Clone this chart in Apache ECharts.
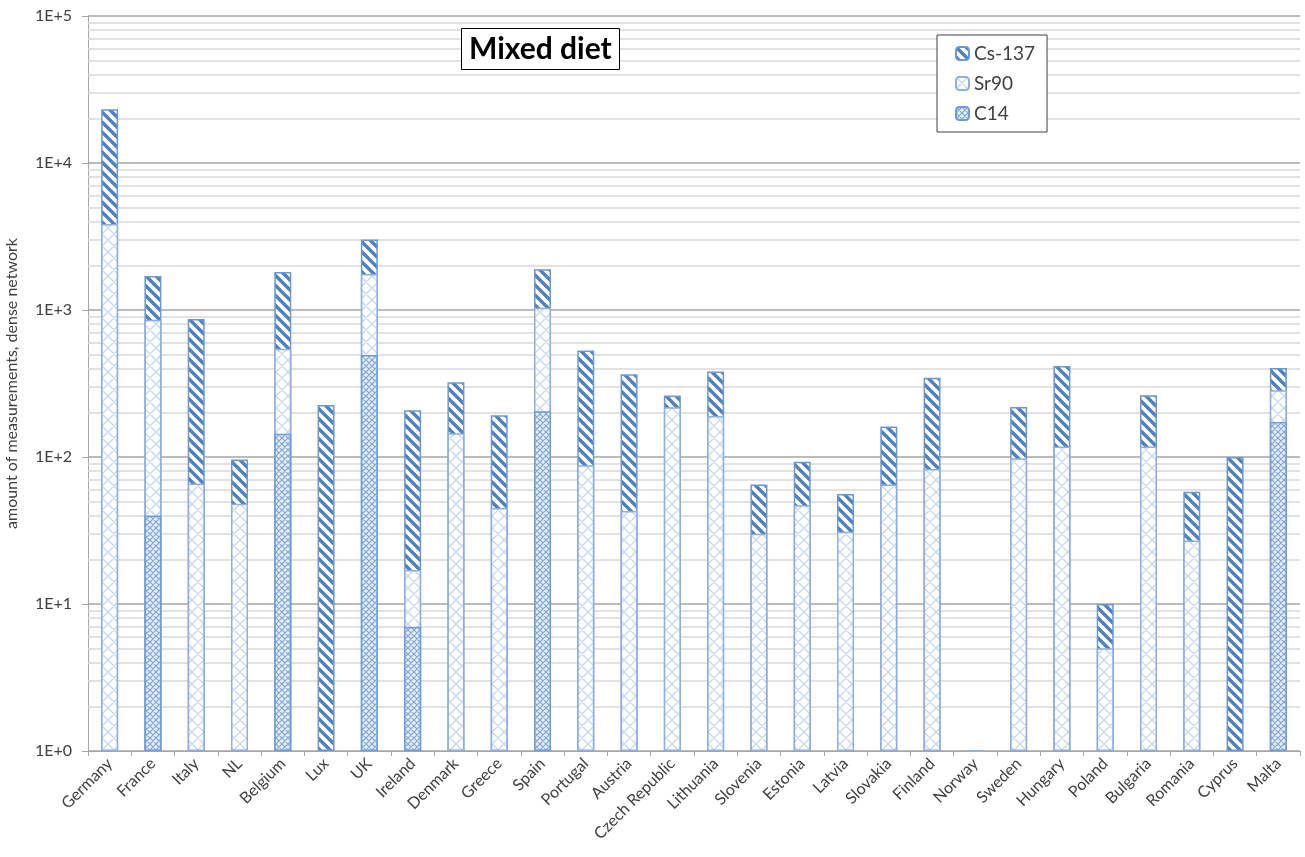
<!DOCTYPE html>
<html>
<head>
<meta charset="utf-8">
<script src="https://cdn.jsdelivr.net/npm/echarts@6/dist/echarts.min.js"></script>
<style>
html,body{margin:0;padding:0;background:#fff;}
#chart{width:1305px;height:857px;}
</style>
</head>
<body>
<div id="chart"></div>
<script>
// ---- data ----
const countries = ['Germany','France','Italy','NL','Belgium','Lux','UK','Ireland','Denmark','Greece','Spain','Portugal','Austria','Czech Republic','Lithuania','Slovenia','Estonia','Latvia','Slovakia','Finland','Norway','Sweden','Hungary','Poland','Bulgaria','Romania','Cyprus','Malta'];
const c14   = [null,40,null,null,144,null,495,7,null,null,205,null,null,null,null,null,null,null,null,null,null,null,null,null,null,null,null,173];
const sr90  = [3850,820,66,48,400,null,1265,10,145,45,832,88,43,218,190,30,47,31,65,83,1,98,118,5,118,27,null,111];
const cs137 = [19350,840,804,48,1270,226,1255,191,177,147,855,443,322,44,192,35,46,25,96,263,null,121,298,5,145,31,100,119];
const yTickLabels = ['1E+0','1E+1','1E+2','1E+3','1E+4','1E+5'];

// cumulative tops (stack drawn as overlapping bars on log axis)
const c14Top = c14.map(v => v == null ? null : v);
const srTop = sr90.map((v, i) => v == null ? null : (c14[i] || 0) + v);
const csTop = cs137.map((v, i) => v == null ? null : (c14[i] || 0) + (sr90[i] || 0) + v);

// minor gridline values (2..9 per decade)
const minorVals = [];
for (let e = 0; e < 5; e++) for (let m = 2; m <= 9; m++) minorVals.push(m * Math.pow(10, e));

// ---- patterns ----
function tile(size, bg, stroke, lw, cross) {
  const c = document.createElement('canvas');
  c.width = c.height = size;
  const g = c.getContext('2d');
  g.fillStyle = bg; g.fillRect(0, 0, size, size);
  g.strokeStyle = stroke; g.lineWidth = lw;
  g.beginPath();
  for (const k of [-size, 0, size]) {
    g.moveTo(k - 2, -2); g.lineTo(k + size + 2, size + 2);
    if (cross) { g.moveTo(k + size + 2, -2); g.lineTo(k - 2, size + 2); }
  }
  g.stroke();
  return c;
}
const csPat  = { image: tile(10, '#ffffff', '#4f81bd', 3.4, false), repeat: 'repeat' };
const srPat  = { image: tile(12, '#ffffff', '#c8d8f0', 1.4, true), repeat: 'repeat' };
const c14Pat = { image: tile(6, '#e6eef9', '#7fa5d9', 1.2, true), repeat: 'repeat' };

const FONT = 'Lato, "Open Sans", sans-serif';
const chart = echarts.init(document.getElementById('chart'), null, {renderer: 'canvas'});

chart.setOption({
  animation: false,
  backgroundColor: '#ffffff',
  title: {
    text: 'Mixed diet',
    left: 461, top: 28,
    padding: [6, 8, 6, 8],
    borderColor: '#000000', borderWidth: 1,
    backgroundColor: '#ffffff',
    textStyle: {fontFamily: FONT, fontWeight: 'bold', fontSize: 30, color: '#000000'}
  },
  legend: {
    orient: 'vertical',
    left: 937, top: 35,
    padding: [9, 12, 9, 18],
    itemGap: 11,
    itemWidth: 13, itemHeight: 13,
    backgroundColor: '#ffffff',
    borderColor: '#404040', borderWidth: 1,
    textStyle: {fontFamily: FONT, fontSize: 19, color: '#404040'},
    data: ['Cs-137', 'Sr90', 'C14']
  },
  grid: {left: 88, right: 5, top: 16, bottom: 106, containLabel: false, outerBoundsMode: 'none'},
  xAxis: {
    type: 'category',
    data: countries,
    axisLine: {lineStyle: {color: '#a6a6a6', width: 1}},
    axisTick: {show: true, length: 5, lineStyle: {color: '#a6a6a6'}},
    axisLabel: {rotate: 45, margin: 10, fontFamily: FONT, fontSize: 16, color: '#404040', interval: 0},
    splitLine: {show: false}
  },
  yAxis: {
    type: 'log', logBase: 10, min: 1, max: 100000,
    name: 'amount of measurements, dense network',
    nameLocation: 'middle', nameRotate: 90, nameGap: 68,
    nameTextStyle: {fontFamily: FONT, fontSize: 16, color: '#404040'},
    axisLine: {show: true, lineStyle: {color: '#a6a6a6', width: 1}},
    axisTick: {show: true, length: 6, lineStyle: {color: '#a6a6a6'}},
    axisLabel: {
      margin: 16, fontFamily: FONT, fontSize: 16, color: '#404040',
      formatter: v => yTickLabels[Math.round(Math.log10(v))]
    },
    splitLine: {show: true, lineStyle: {color: '#a6a6a6', width: 1.5}}
  },
  series: [
    {
      name: 'Cs-137', type: 'bar', data: csTop, barWidth: 17, barGap: '-100%',
      itemStyle: {color: csPat, borderColor: '#6b98d3', borderWidth: 1.5},
      markLine: {
        silent: true, symbol: 'none', z: 1, animation: false,
        label: {show: false},
        lineStyle: {color: '#d9d9d9', width: 1.5, type: 'solid'},
        data: minorVals.map(v => ({yAxis: v}))
      }
    },
    {
      name: 'Sr90', type: 'bar', data: srTop, barWidth: 17, barGap: '-100%',
      itemStyle: {color: srPat, borderColor: '#8fb0df', borderWidth: 1.5}
    },
    {
      name: 'C14', type: 'bar', data: c14Top, barWidth: 17, barGap: '-100%',
      itemStyle: {color: c14Pat, borderColor: '#6f9bd6', borderWidth: 1.5}
    }
  ]
});
</script>
</body>
</html>
